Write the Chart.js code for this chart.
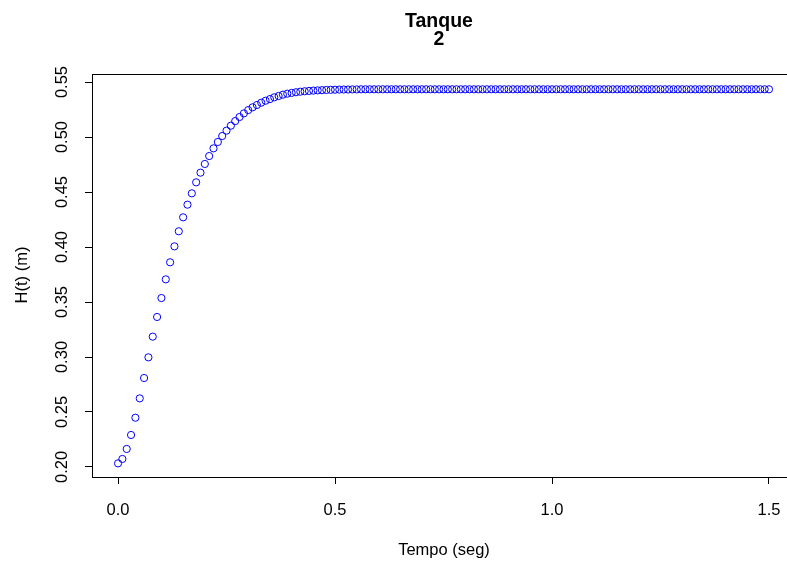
<!DOCTYPE html>
<html>
<head>
<meta charset="utf-8">
<script src="https://cdn.jsdelivr.net/npm/chart.js@4"></script>
<style>
  html, body { margin: 0; padding: 0; background: #fff; }
</style>
</head>
<body>
<canvas id="tanque" width="787" height="563"></canvas>
<script>
// tempo (seg)
const tempo = [
  0.00, 0.01, 0.02, 0.03, 0.04, 0.05, 0.06, 0.07, 0.08, 0.09,
  0.10, 0.11, 0.12, 0.13, 0.14, 0.15, 0.16, 0.17, 0.18, 0.19,
  0.20, 0.21, 0.22, 0.23, 0.24, 0.25, 0.26, 0.27, 0.28, 0.29,
  0.30, 0.31, 0.32, 0.33, 0.34, 0.35, 0.36, 0.37, 0.38, 0.39,
  0.40, 0.41, 0.42, 0.43, 0.44, 0.45, 0.46, 0.47, 0.48, 0.49,
  0.50, 0.51, 0.52, 0.53, 0.54, 0.55, 0.56, 0.57, 0.58, 0.59,
  0.60, 0.61, 0.62, 0.63, 0.64, 0.65, 0.66, 0.67, 0.68, 0.69,
  0.70, 0.71, 0.72, 0.73, 0.74, 0.75, 0.76, 0.77, 0.78, 0.79,
  0.80, 0.81, 0.82, 0.83, 0.84, 0.85, 0.86, 0.87, 0.88, 0.89,
  0.90, 0.91, 0.92, 0.93, 0.94, 0.95, 0.96, 0.97, 0.98, 0.99,
  1.00, 1.01, 1.02, 1.03, 1.04, 1.05, 1.06, 1.07, 1.08, 1.09,
  1.10, 1.11, 1.12, 1.13, 1.14, 1.15, 1.16, 1.17, 1.18, 1.19,
  1.20, 1.21, 1.22, 1.23, 1.24, 1.25, 1.26, 1.27, 1.28, 1.29,
  1.30, 1.31, 1.32, 1.33, 1.34, 1.35, 1.36, 1.37, 1.38, 1.39,
  1.40, 1.41, 1.42, 1.43, 1.44, 1.45, 1.46, 1.47, 1.48, 1.49,
  1.50
];

// H(t) (m)
const altura = [
  0.2033, 0.2073, 0.2164, 0.2291, 0.2448, 0.2624, 0.2809, 0.2997, 0.3185, 0.3364,
  0.3536, 0.3706, 0.3861, 0.4006, 0.4143, 0.4270, 0.4385, 0.4488, 0.4588, 0.4676,
  0.4755, 0.4827, 0.4897, 0.4955, 0.5009, 0.5058, 0.5103, 0.5145, 0.5182, 0.5215,
  0.5245, 0.5270, 0.5291, 0.5312, 0.5330, 0.5345, 0.5361, 0.5373, 0.5385, 0.5394,
  0.5401, 0.5407, 0.5412, 0.5416, 0.5419, 0.5422, 0.5424, 0.5426, 0.5428, 0.5429,
  0.5430, 0.5431, 0.5432, 0.5432, 0.5433, 0.5433, 0.5434, 0.5434, 0.5434, 0.5434,
  0.5434, 0.5434, 0.5434, 0.5434, 0.5434, 0.5434, 0.5434, 0.5434, 0.5434, 0.5434,
  0.5434, 0.5434, 0.5434, 0.5434, 0.5434, 0.5434, 0.5434, 0.5434, 0.5434, 0.5434,
  0.5434, 0.5434, 0.5434, 0.5434, 0.5434, 0.5434, 0.5434, 0.5434, 0.5434, 0.5434,
  0.5434, 0.5434, 0.5434, 0.5434, 0.5434, 0.5434, 0.5434, 0.5434, 0.5434, 0.5434,
  0.5434, 0.5434, 0.5434, 0.5434, 0.5434, 0.5434, 0.5434, 0.5434, 0.5434, 0.5434,
  0.5434, 0.5434, 0.5434, 0.5434, 0.5434, 0.5434, 0.5434, 0.5434, 0.5434, 0.5434,
  0.5434, 0.5434, 0.5434, 0.5434, 0.5434, 0.5434, 0.5434, 0.5434, 0.5434, 0.5434,
  0.5434, 0.5434, 0.5434, 0.5434, 0.5434, 0.5434, 0.5434, 0.5434, 0.5434, 0.5434,
  0.5434, 0.5434, 0.5434, 0.5434, 0.5434, 0.5434, 0.5434, 0.5434, 0.5434, 0.5434,
  0.5434
];

const xTicks = [0.0, 0.5, 1.0, 1.5];
const yTicks = [0.20, 0.25, 0.30, 0.35, 0.40, 0.45, 0.50, 0.55];

const FONT = '"Liberation Sans", Arial, sans-serif';
Chart.defaults.font.family = FONT;
Chart.defaults.color = '#000';

// box, tick labels and titles, drawn the way R's base plot does
const rDecor = {
  id: 'rDecor',
  afterDraw(chart) {
    const { ctx, chartArea: a, scales } = chart;
    ctx.save();
    ctx.strokeStyle = '#000';
    ctx.lineWidth = 1;
    ctx.strokeRect(a.left + 0.5, a.top + 0.5, a.right - a.left + 20, a.bottom - a.top);

    ctx.fillStyle = '#000';
    ctx.font = '16.5px ' + FONT;
    ctx.textAlign = 'center';
    ctx.textBaseline = 'middle';
    xTicks.forEach(v => {
      ctx.fillText(v.toFixed(1), scales.x.getPixelForValue(v), 510);
    });
    yTicks.forEach(v => {
      const py = scales.y.getPixelForValue(v);
      ctx.save();
      ctx.translate(62, py);
      ctx.rotate(-Math.PI / 2);
      ctx.fillText(v.toFixed(2), 0, 0);
      ctx.restore();
    });

    ctx.fillText('Tempo (seg)', 444, 550);
    ctx.save();
    ctx.translate(22, 275);
    ctx.rotate(-Math.PI / 2);
    ctx.fillText('H(t) (m)', 0, 0);
    ctx.restore();

    ctx.font = 'bold 19.5px ' + FONT;
    ctx.fillText('Tanque', 439, 22);
    ctx.fillText('2', 439, 40);
    ctx.restore();
  }
};

new Chart(document.getElementById('tanque'), {
  type: 'scatter',
  data: {
    datasets: [{
      data: tempo.map((t, i) => ({ x: t, y: altura[i] })),
      pointStyle: 'circle',
      pointRadius: 3.6,
      pointBorderWidth: 1,
      pointBorderColor: '#0000ff',
      pointBackgroundColor: 'rgba(0,0,0,0)'
    }]
  },
  options: {
    responsive: false,
    animation: false,
    devicePixelRatio: 1,
    layout: { autoPadding: false, padding: { top: 74, left: 0, right: 0, bottom: 0 } },
    plugins: {
      legend: { display: false },
      tooltip: { enabled: false },
      title: { display: false }
    },
    scales: {
      x: {
        type: 'linear',
        min: -0.06,
        max: 1.5415,
        afterBuildTicks: s => { s.ticks = xTicks.map(v => ({ value: v })); },
        afterFit: s => { s.height = 86; s.paddingLeft = 0; s.paddingRight = 0; },
        border: { display: false },
        grid: { drawOnChartArea: false, drawTicks: true, tickLength: 7, color: '#000' },
        ticks: { display: false }
      },
      y: {
        type: 'linear',
        min: 0.1909,
        max: 0.5573,
        afterBuildTicks: s => { s.ticks = yTicks.map(v => ({ value: v })); },
        afterFit: s => { s.width = 92; s.paddingTop = 0; s.paddingBottom = 0; },
        border: { display: false },
        grid: { drawOnChartArea: false, drawTicks: true, tickLength: 7, color: '#000' },
        ticks: { display: false }
      }
    }
  },
  plugins: [rDecor]
});
</script>
</body>
</html>
